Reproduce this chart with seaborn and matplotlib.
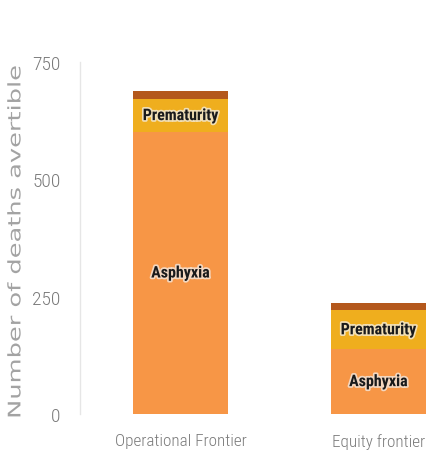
import numpy as np
import pandas as pd
import matplotlib
matplotlib.use("Agg")
import matplotlib.pyplot as plt
import matplotlib.patheffects as pe
from matplotlib.transforms import Affine2D
import seaborn as sns

# data
categories = ["Operational Frontier", "Equity frontier"]
asphyxia = [601, 138]
prematurity = [70, 83]
other = [17, 15]

segment_names = ["Asphyxia", "Prematurity", "Other"]
segment_colors = ["#F79646", "#EFAE1E", "#B4581C"]

sns.set_style("white")
narrow = ["Roboto Condensed", "DejaVu Sans"]


class Stretch(pe.AbstractPathEffect):
    """Widen text along its baseline (the reference uses a wide, spaced font)."""

    def __init__(self, sx):
        super().__init__()
        self.sx = sx

    def draw_path(self, renderer, gc, tpath, affine, rgbFace=None):
        renderer.draw_path(gc, tpath, Affine2D().scale(self.sx, 1) + affine,
                           rgbFace)


df = pd.DataFrame({
    "category": categories,
    "Asphyxia": asphyxia,
    "Prematurity": prematurity,
    "Other": other,
})

fig = plt.figure(figsize=(4.28, 4.64), dpi=100)
ax = fig.add_axes([0.187, 0.1056, 0.813, 0.7584])

# stacked bars: draw cumulative totals, tallest first
cum = df[segment_names].cumsum(axis=1)
for name, color in reversed(list(zip(segment_names, segment_colors))):
    sns.barplot(x=df["category"], y=cum[name], color=color, width=0.48,
                saturation=1, linewidth=0, ax=ax)

# segment labels
halo = [pe.withStroke(linewidth=2.5, foreground="#f4f4f4", alpha=0.7)]
for i in range(len(categories)):
    for name in ["Asphyxia", "Prematurity"]:
        top = cum[name].iloc[i]
        mid = top - df[name].iloc[i] / 2
        ax.text(i, mid, name, ha="center", va="center", fontsize=11.5,
                fontweight="bold", color="#1a1a1a", family=narrow,
                path_effects=halo)

ax.set_xlim(-0.508, 1.25)
ax.set_ylim(0, 750)
ax.set_yticks([0, 250, 500, 750])
ax.set_xlabel("")
ax.set_ylabel("")

# y label drawn from its bottom end so the stretch keeps it in place
fig.text(0.036, 0.095, "Number of deaths avertible", rotation=90,
         rotation_mode="anchor", ha="left", va="center", fontsize=12.5,
         color="#a3a3a3", path_effects=[Stretch(1.48)])

for lab in ax.get_yticklabels() + ax.get_xticklabels():
    lab.set_family(narrow)
    lab.set_fontweight("light")
    lab.set_color("#7a7a7a")
for lab in ax.get_yticklabels():
    lab.set_fontsize(14)
for lab in ax.get_xticklabels():
    lab.set_fontsize(12.3)
ax.tick_params(axis="y", length=0, pad=14)
ax.tick_params(axis="x", length=0, pad=14)

for s in ["top", "right", "bottom"]:
    ax.spines[s].set_visible(False)
ax.spines["left"].set_color("#e6e6e6")
ax.spines["left"].set_linewidth(1)

fig.savefig("out.png", dpi=100)
